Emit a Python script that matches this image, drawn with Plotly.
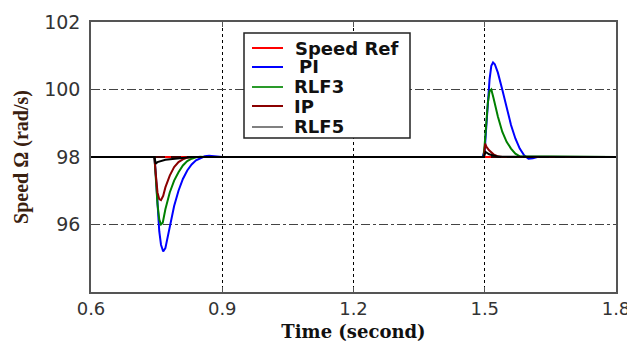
import plotly.graph_objects as go

# ---- data ----
ref_t = [0.6, 1.8]
ref_v = [98.0, 98.0]

pi_t = [0.6, 0.745, 0.748, 0.752, 0.756, 0.76, 0.765, 0.77, 0.775, 0.78, 0.79, 0.80, 0.81, 0.82, 0.83,
        0.84, 0.85, 0.86, 0.87, 0.88, 0.9, 1.495, 1.5, 1.503, 1.507, 1.511, 1.515, 1.519, 1.523, 1.53,
        1.54, 1.55, 1.56, 1.57, 1.58, 1.59, 1.6, 1.61, 1.62, 1.8]
pi_v = [98, 98, 97.5, 96.6, 95.8, 95.4, 95.2, 95.3, 95.6, 95.95, 96.55, 97.0, 97.35, 97.6, 97.78,
        97.9, 97.97, 98.02, 98.04, 98.02, 98.0, 98.0, 98.2, 98.8, 99.6, 100.3, 100.7, 100.8, 100.75, 100.5,
        100.0, 99.45, 98.95, 98.55, 98.25, 98.05, 97.95, 97.96, 98.0, 98.0]

rlf3_t = [0.6, 0.745, 0.748, 0.752, 0.756, 0.76, 0.764, 0.77, 0.78, 0.79, 0.80, 0.81, 0.82, 0.83, 0.84,
          0.85, 0.86, 0.9, 1.497, 1.5, 1.503, 1.507, 1.511, 1.515, 1.52, 1.53, 1.54, 1.55, 1.56, 1.57,
          1.58, 1.8]
rlf3_v = [98, 98, 97.4, 96.6, 96.15, 96.0, 96.05, 96.45, 96.95, 97.3, 97.55, 97.75, 97.88, 97.95, 97.99,
          98.01, 98.0, 98.0, 98.0, 98.4, 99.0, 99.6, 99.95, 100.0, 99.75, 99.2, 98.75, 98.45, 98.25, 98.1,
          98.02, 98.0]

ip_t = [0.6, 0.745, 0.748, 0.752, 0.756, 0.76, 0.765, 0.77, 0.78, 0.79, 0.80, 0.81, 0.82, 0.83, 0.9,
        1.498, 1.501, 1.504, 1.51, 1.52, 1.53, 1.54, 1.8]
ip_v = [98, 98, 97.5, 96.95, 96.75, 96.72, 96.85, 97.1, 97.45, 97.7, 97.85, 97.93, 97.98, 98.0, 98.0,
        98.0, 98.4, 98.3, 98.2, 98.08, 98.02, 98.0, 98.0]

rlf5_t = [0.6, 0.745, 0.748, 0.752, 0.77, 0.8, 0.83, 1.498, 1.502, 1.51, 1.53, 1.8]
rlf5_v = [98, 98, 97.8, 97.85, 97.92, 97.97, 98.0, 98.0, 98.15, 98.08, 98.01, 98.0]

x_ticks = [0.6, 0.9, 1.2, 1.5, 1.8]
x_labels = ["0.6", "0.9", "1.2", "1.5", "1.8"]
y_ticks = [96, 98, 100, 102]

names = ["Speed Ref", "PI", "RLF3", "IP", "RLF5"]
line_colors = ["#ff0000", "#0000ff", "#008000", "#8b0000", "#000000"]
legend_colors = ["#ff0000", "#0000ff", "#2a9a2a", "#8b0000", "#808080"]

# the page body has an 8px margin, so figure coords = screen coords - 8
OFF = 8
W, H = 627, 334
ML, MT = 91 - OFF, 22 - OFF
MR = W - (616 - OFF)
MB = H - (292 - OFF)
PW, PH = W - ML - MR, H - MT - MB


def px(x):
    return (x - OFF - ML) / PW


def py(y):
    return (H - MB - (y - OFF)) / PH


fig = go.Figure()
series = [(ref_t, ref_v), (pi_t, pi_v), (rlf3_t, rlf3_v), (ip_t, ip_v), (rlf5_t, rlf5_v)]
for (t, v), c, n in zip(series, line_colors, names):
    fig.add_trace(go.Scatter(x=t, y=v, mode="lines", line=dict(color=c, width=2),
                             showlegend=False, name=n, hoverinfo="skip"))
# dashed black reference overlay
fig.add_trace(go.Scatter(x=ref_t, y=ref_v, mode="lines",
                         line=dict(color="#000000", width=1.5, dash="10px,6px"),
                         showlegend=False, hoverinfo="skip"))

# manual legend box
shapes = [dict(type="rect", xref="paper", yref="paper",
               x0=px(244), x1=px(410), y0=py(138), y1=py(33),
               line=dict(color="#222", width=1.5), fillcolor="white", layer="above")]
annotations = []
row_y = [48, 67, 87, 106, 127]
text_x = [293, 297, 292, 292, 292]
for c, n, ry, tx in zip(legend_colors, names, row_y, text_x):
    shapes.append(dict(type="line", xref="paper", yref="paper",
                       x0=px(252), x1=px(283), y0=py(ry), y1=py(ry),
                       line=dict(color=c, width=2), layer="above"))
    annotations.append(dict(xref="paper", yref="paper", x=px(tx), y=py(ry),
                            xanchor="left", yanchor="middle", showarrow=False, text="<b>%s</b>" % n,
                            font=dict(family="DejaVu Sans", size=18, color="#111")))

fig.update_layout(
    width=W, height=H,
    margin=dict(l=ML, r=MR, t=MT, b=MB),
    paper_bgcolor="white", plot_bgcolor="white",
    showlegend=False,
    shapes=shapes, annotations=annotations,
    xaxis=dict(range=[0.6, 1.8], tickvals=x_ticks, ticktext=x_labels, automargin=False,
               showgrid=True, gridcolor="#000", griddash="dot", gridwidth=1,
               showline=True, linecolor="#555", linewidth=1.5, mirror="ticks",
               ticks="inside", ticklen=5, tickcolor="#555", zeroline=False,
               tickfont=dict(family="DejaVu Sans", size=18, color="#333"),
               title=dict(text="<b>Time (second)</b>", standoff=9,
                          font=dict(family="DejaVu Serif", size=18, color="#111"))),
    yaxis=dict(range=[94, 102], tickvals=y_ticks, automargin=False,
               showgrid=True, gridcolor="#444", griddash="dashdot", gridwidth=1,
               showline=True, linecolor="#555", linewidth=1.5, mirror=True,
               ticks="", zeroline=False, ticklabelstandoff=5,
               tickfont=dict(family="DejaVu Sans", size=19, color="#333"),
               title=dict(text="<b>Speed Ω (rad/s)</b>", standoff=10,
                          font=dict(family="Liberation Serif", size=20, color="#3a2010"))),
)

fig.write_html("out.html")
